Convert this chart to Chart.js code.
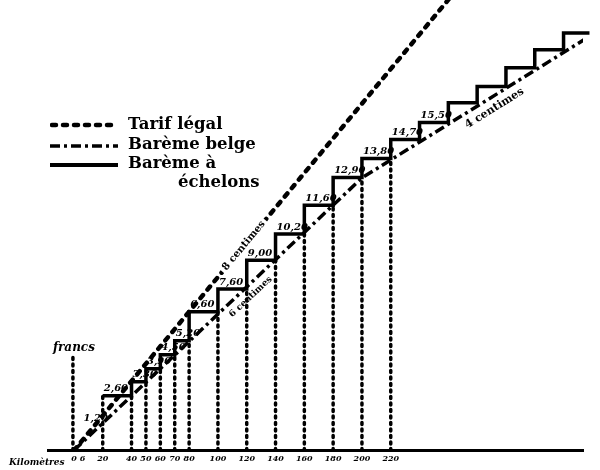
<!DOCTYPE html>
<html>
<head>
<meta charset="utf-8">
<script src="https://cdn.jsdelivr.net/npm/chart.js@4.4.0/dist/chart.umd.min.js"></script>
<style>
  body { margin: 0; background: #fff; }
  #wrap { position: relative; width: 600px; height: 470px; }
  #c { position: absolute; left: 0; top: 0; }
  .lg { position: absolute; font: bold 16.5px 'DejaVu Serif', serif; color: #000; white-space: nowrap; line-height: 20px; }
  .lg svg { position: absolute; }
  #km { position: absolute; left: 9px; top: 457px; font: italic bold 9px 'DejaVu Serif', serif; color: #000; }
</style>
</head>
<body>
<div id="wrap">
  <canvas id="c" width="600" height="470"></canvas>
  <svg class="lg" style="left:50px;top:115px" width="70" height="60">
    <line x1="2" y1="10" x2="66" y2="10" stroke="#000" stroke-width="4.5" stroke-dasharray="4 7" stroke-linecap="round"/>
    <line x1="0" y1="31" x2="68" y2="31" stroke="#000" stroke-width="3.5" stroke-dasharray="10 4 3 4"/>
    <line x1="0" y1="50" x2="68" y2="50" stroke="#000" stroke-width="4"/>
  </svg>
  <div class="lg" style="left:128px;top:114px">Tarif légal</div>
  <div class="lg" style="left:128px;top:134px">Barème belge</div>
  <div class="lg" style="left:128px;top:153px">Barème à</div>
  <div class="lg" style="left:178px;top:172px">échelons</div>
  <div id="km">Kilomètres</div>
</div>
<script>
// distances in km, prices in francs
const tickKm = [0, 6, 20, 40, 50, 60, 70, 80, 100, 120, 140, 160, 180, 200, 220];

const legalKm = [0, 262];
const legalFr = [0, 21.5];

const belgeKm = [0, 200, 358];
const belgeFr = [0, 12.9, 19.6];

const stepEdges = [20, 40, 50, 60, 70, 80, 100, 120, 140, 160, 180, 200, 220, 240, 260, 280, 300, 320, 340, 358];
const stepLevels = [2.59, 3.25, 3.87, 4.53, 5.19, 6.56, 7.64, 9.0, 10.24, 11.6, 12.92, 13.82, 14.72, 15.52, 16.46, 17.22, 18.11, 18.96, 19.76];
const dottedCount = 13; // dotted verticals from 20 to 220 km

const treadKm = [6, 20, 40, 50, 60, 70, 80, 100, 120, 140, 160, 180, 200, 220, 240];
const treadFr = [1.2, 2.59, 3.25, 3.87, 4.53, 5.19, 6.56, 7.64, 9.0, 10.24, 11.6, 12.92, 13.82, 14.72, 15.52];

const francKm = -0.7;
const francFr = 4.48;

const lineLabels = [
  { text: '8 centimes', line: 'legal', km: 118, off: 0, size: 10, bg: true },
  { text: '6 centimes', line: 'belge', km: 118, off: 10, size: 9, bg: false },
  { text: '4 centimes', line: 'belge', km: 288, off: 11, size: 11, bg: false },
];

const fmt = v => (Math.round(v * 10) / 10).toFixed(2).replace('.', ',');

const pts = (ks, fs) => ks.map((k, i) => ({ x: k, y: fs[i] }));

const stairs = stepLevels.map((v, i) => ({ x: stepEdges[i], y: v }));
stairs.push({ x: stepEdges[stepEdges.length - 1], y: stepLevels[stepLevels.length - 1] });

const dotted = [];
stepEdges.slice(0, dottedCount).forEach((b, i) => {
  const top = i === 0 ? stepLevels[0] : stepLevels[i - 1];
  dotted.push({ x: b, y: 0 }, { x: b, y: top }, { x: b, y: null });
});
dotted.push({ x: francKm, y: 0 }, { x: francKm, y: francFr });

function onLine(ks, fs, k) {
  for (let i = 0; i < ks.length - 1; i++) {
    if (k <= ks[i + 1]) {
      const t = (k - ks[i]) / (ks[i + 1] - ks[i]);
      return { fr: fs[i] + t * (fs[i + 1] - fs[i]), a: [ks[i], fs[i]], b: [ks[i + 1], fs[i + 1]] };
    }
  }
}

const annotations = {
  id: 'annotations',
  afterDatasetsDraw(chart) {
    const { ctx, scales: { x, y } } = chart;
    ctx.save();
    ctx.fillStyle = '#000';

    // prices over each tread
    ctx.font = "italic bold 10px 'DejaVu Serif'";
    ctx.textBaseline = 'bottom';
    treadKm.forEach((k, i) => {
      ctx.fillText(fmt(treadFr[i]), x.getPixelForValue(k) + 1, y.getPixelForValue(treadFr[i]) - 2);
    });

    // unit over the franc mark
    ctx.font = "italic bold 12px 'DejaVu Serif'";
    ctx.textAlign = 'center';
    ctx.fillText('francs', x.getPixelForValue(francKm) + 1, y.getPixelForValue(francFr) - 2);

    // rates written along the lines
    lineLabels.forEach(l => {
      const src = l.line === 'legal' ? [legalKm, legalFr] : [belgeKm, belgeFr];
      const p = onLine(src[0], src[1], l.km);
      const px = x.getPixelForValue(l.km), py = y.getPixelForValue(p.fr);
      const ang = Math.atan2(y.getPixelForValue(p.b[1]) - y.getPixelForValue(p.a[1]),
                             x.getPixelForValue(p.b[0]) - x.getPixelForValue(p.a[0]));
      ctx.save();
      ctx.translate(px, py);
      ctx.rotate(ang);
      ctx.font = `bold ${l.size}px 'DejaVu Serif'`;
      ctx.textBaseline = 'middle';
      ctx.textAlign = 'center';
      if (l.bg) {
        const w = ctx.measureText(l.text).width;
        ctx.fillStyle = '#fff';
        ctx.fillRect(-w / 2 - 3, -6, w + 6, 12);
        ctx.fillStyle = '#000';
      }
      ctx.fillText(l.text, 0, l.off);
      ctx.restore();
    });
    ctx.restore();
  }
};

new Chart(document.getElementById('c'), {
  type: 'line',
  data: {
    datasets: [
      { label: 'Tarif légal', data: pts(legalKm, legalFr), borderColor: '#000', borderWidth: 4.5,
        borderDash: [4, 7], borderCapStyle: 'round' },
      { label: 'Barème belge', data: pts(belgeKm, belgeFr), borderColor: '#000', borderWidth: 3.5,
        borderDash: [10, 4, 3, 4] },
      { label: 'Barème à échelons', data: stairs, borderColor: '#000', borderWidth: 3.5,
        stepped: 'before', clip: false },
      { label: 'limites', data: dotted, borderColor: '#000', borderWidth: 3.5,
        borderDash: [2, 4.5], borderCapStyle: 'round', spanGaps: false }
    ]
  },
  options: {
    responsive: false,
    animation: false,
    layout: { padding: { left: 48, right: 17, top: 0, bottom: 2 } },
    elements: { point: { radius: 0 }, line: { tension: 0 } },
    plugins: { legend: { display: false }, tooltip: { enabled: false } },
    events: [],
    scales: {
      x: {
        type: 'linear', min: -18, max: 353.5,
        grid: { display: false, drawTicks: false },
        border: { display: true, color: '#000', width: 3 },
        afterBuildTicks: s => { s.ticks = tickKm.map(v => ({ value: v })); },
        ticks: { color: '#000', padding: 4, autoSkip: false, maxRotation: 0,
                 font: { family: 'DejaVu Serif', size: 8, weight: 'bold', style: 'italic' } }
      },
      y: { display: false, min: 0, max: 21.32 }
    }
  },
  plugins: [annotations]
});
</script>
</body>
</html>
